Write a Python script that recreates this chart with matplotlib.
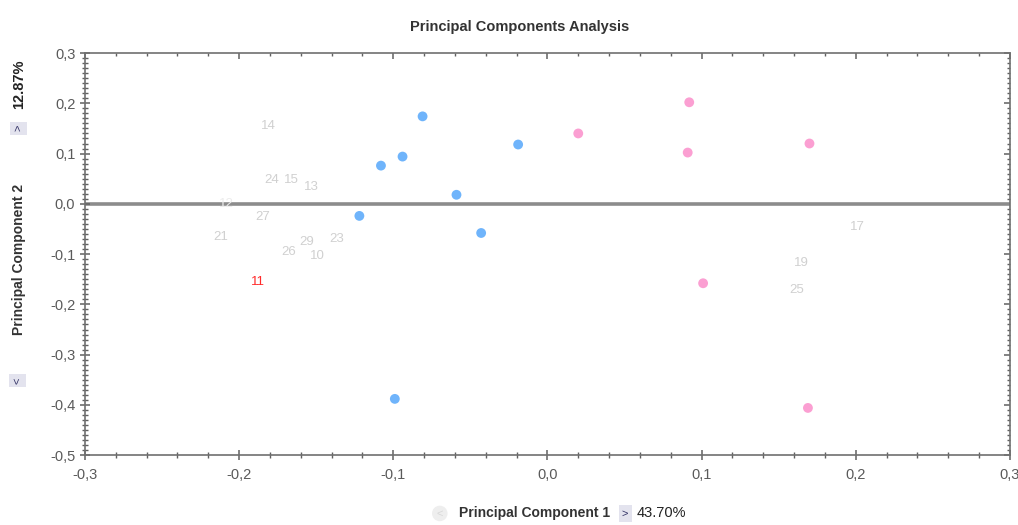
import matplotlib
matplotlib.use("Agg")
import matplotlib.pyplot as plt
from matplotlib.ticker import MultipleLocator, FuncFormatter, NullFormatter

plt.rcParams["font.family"] = ["Liberation Sans", "DejaVu Sans"]

# group 1 (blue) scores
blue_x = [-0.081, -0.108, -0.094, -0.122, -0.059, -0.019, -0.043, -0.099]
blue_y = [0.174, 0.076, 0.094, -0.024, 0.018, 0.118, -0.058, -0.388]

# group 2 (pink) scores
pink_x = [0.020, 0.092, 0.091, 0.170, 0.101, 0.169]
pink_y = [0.140, 0.202, 0.102, 0.120, -0.158, -0.406]

# faint sample labels
label_text = ["14", "24", "15", "13", "12", "27", "21", "26", "29", "10", "23", "17", "19", "25"]
label_x = [-0.181, -0.179, -0.166, -0.153, -0.208, -0.185, -0.212, -0.168, -0.156, -0.149, -0.137, 0.201, 0.165, 0.162]
label_y = [0.154, 0.048, 0.048, 0.034, 0.000, -0.026, -0.066, -0.096, -0.076, -0.104, -0.070, -0.046, -0.118, -0.172]

# highlighted sample
red_text = "11"
red_x, red_y = -0.188, -0.156

pc1_pct = "43.70%"
pc2_pct = "12.87%"

fig = plt.figure(figsize=(10.18, 5.25), dpi=100)
ax = fig.add_axes([0.0835, 0.133, 0.9085, 0.766])

ax.axhline(0, color="#8c8c8c", lw=2.6, zorder=1)
ax.scatter(blue_x, blue_y, s=50, color="#6fb4fb", edgecolors="none", zorder=3)
ax.scatter(pink_x, pink_y, s=50, color="#fb9fd2", edgecolors="none", zorder=3)

for t, x, y in zip(label_text, label_x, label_y):
    col = "#ececec" if t == "12" else "#d0d0d0"
    ax.text(x, y, t, color=col, fontsize=9.5, ha="center", va="center", zorder=2)
ax.text(red_x, red_y, red_text, color="#ff2a2a", fontsize=9.5, ha="center", va="center", zorder=2)

ax.set_xlim(-0.3, 0.3)
ax.set_ylim(-0.5, 0.3)
comma = FuncFormatter(lambda v, _: f"{v:.1f}".replace(".", ",").replace("-0,0", "0,0"))


def set_locators(axis, major, minor):
    axis.set_major_locator(MultipleLocator(major))
    axis.set_minor_locator(MultipleLocator(minor))


set_locators(ax.xaxis, 0.1, 0.02)
set_locators(ax.yaxis, 0.1, 0.01)
ax.xaxis.set_major_formatter(comma)
ax.yaxis.set_major_formatter(comma)

for s in ax.spines.values():
    s.set_color("#707070")
    s.set_linewidth(1.2)
ax.tick_params(axis="both", which="major", direction="inout", length=7, width=1.1,
               color="#606060", labelcolor="#5a5a5a", labelsize=10.5)
ax.tick_params(axis="both", which="minor", direction="inout", length=4, width=1.0,
               color="#606060")
ax.tick_params(axis="x", which="major", pad=6)

# top and right: inward ticks only, no labels
top = ax.secondary_xaxis("top")
right = ax.secondary_yaxis("right")
set_locators(top.xaxis, 0.1, 0.02)
set_locators(right.yaxis, 0.1, 0.01)
for sec in (top, right):
    sec.tick_params(which="major", direction="in", length=4, width=1.1, color="#606060")
    sec.tick_params(which="minor", direction="in", length=2.5, width=1.0, color="#606060")
    sec.spines[:].set_visible(False)
top.xaxis.set_major_formatter(NullFormatter())
right.yaxis.set_major_formatter(NullFormatter())

fig.text(0.51, 0.948, "Principal Components Analysis", ha="center", va="center",
         fontsize=10.5, fontweight="bold", color="#333333")

# x axis title row
icon = dict(boxstyle="square,pad=0.3", fc="#e3e3ee", ec="none")
fig.text(0.432, 0.022, "<", ha="center", va="center", fontsize=8, color="#d8d8d8",
         bbox=dict(boxstyle="circle,pad=0.25", fc="#eeeeee", ec="none"))
fig.text(0.451, 0.022, "Principal Component 1", ha="left", va="center",
         fontsize=10, fontweight="bold", color="#333333")
fig.text(0.614, 0.022, ">", ha="center", va="center", fontsize=8, color="#333366", bbox=icon)
fig.text(0.625, 0.022, pc1_pct, ha="left", va="center", fontsize=10.5, color="#222222")

# y axis title column
fig.text(0.017, 0.275, "<", ha="center", va="center", fontsize=8, color="#333366",
         rotation=90, bbox=icon)
fig.text(0.019, 0.505, "Principal Component 2", ha="center", va="center", rotation=90,
         fontsize=10, fontweight="bold", color="#333333")
fig.text(0.018, 0.756, ">", ha="center", va="center", fontsize=8, color="#333366",
         rotation=90, bbox=icon)
fig.text(0.019, 0.84, pc2_pct, ha="center", va="center", rotation=90,
         fontsize=10.5, fontweight="bold", color="#222222")

fig.savefig("out.png", dpi=100)
